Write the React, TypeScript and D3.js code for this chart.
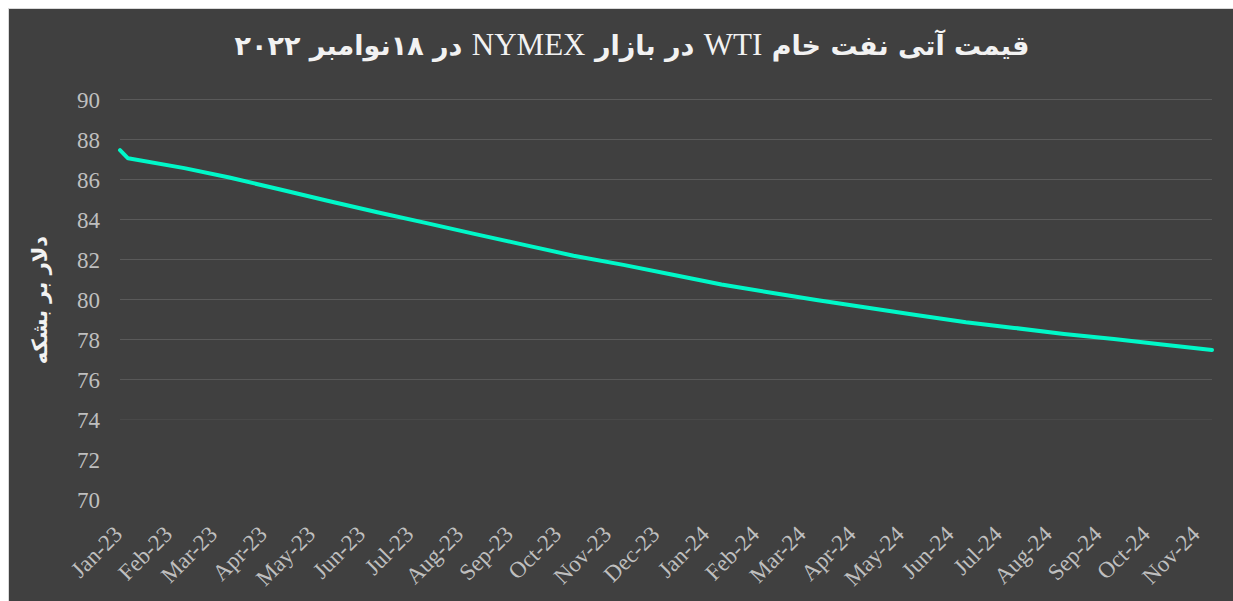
import * as d3 from "d3";

// WTI futures curve, NYMEX settlement of 18 Nov 2022
const dates = [
  "2023-01-01", "2023-01-06", "2023-02-10", "2023-03-10", "2023-04-10", "2023-05-10",
  "2023-06-10", "2023-07-10", "2023-08-10", "2023-09-10", "2023-10-10", "2023-11-10",
  "2023-12-10", "2024-01-10", "2024-02-10", "2024-03-10", "2024-04-10", "2024-05-10",
  "2024-06-10", "2024-07-10", "2024-08-10", "2024-09-10", "2024-10-10", "2024-11-10",
];
const prices = [
  87.47, 87.06, 86.57, 86.1, 85.51, 84.94, 84.36, 83.83, 83.27, 82.72, 82.19, 81.73,
  81.25, 80.75, 80.34, 79.96, 79.59, 79.23, 78.86, 78.58, 78.28, 78.02, 77.75, 77.47,
];
const yTicks = [70, 72, 74, 76, 78, 80, 82, 84, 86, 88, 90];
const monthTicks = [
  "2023-01-01", "2023-02-01", "2023-03-01", "2023-04-01", "2023-05-01", "2023-06-01",
  "2023-07-01", "2023-08-01", "2023-09-01", "2023-10-01", "2023-11-01", "2023-12-01",
  "2024-01-01", "2024-02-01", "2024-03-01", "2024-04-01", "2024-05-01", "2024-06-01",
  "2024-07-01", "2024-08-01", "2024-09-01", "2024-10-01", "2024-11-01",
];

// title pieces: [text, isLatin]
const titleParts: [string, boolean][] = [
  ["قیمت آتی نفت خام ", false],
  ["WTI", true],
  [" در بازار ", false],
  ["NYMEX", true],
  [" در ۱۸نوامبر ۲۰۲۲", false],
];
const yTitle = "دلار بر بشکه";

export default function App() {
  const width = 1233;
  const height = 601;
  const parse = d3.timeParse("%Y-%m-%d");
  const fmt = d3.timeFormat("%b-%y");

  const data = dates.map((d, i) => ({ date: parse(d) as Date, value: prices[i] }));

  const x = d3
    .scaleTime()
    .domain([parse("2023-01-01") as Date, parse("2024-11-10") as Date])
    .range([120, 1212]);
  const y = d3.scaleLinear().domain([70, 90]).range([499.5, 99.5]);

  const line = d3
    .line<{ date: Date; value: number }>()
    .x((d) => x(d.date))
    .y((d) => y(d.value));

  // gridlines fade out toward the bottom of the plot
  const gridOpacity = d3.scaleLinear().domain([375, 445]).range([1, 0]).clamp(true);

  const serif = "'Liberation Serif', 'Times New Roman', 'DejaVu Serif', serif";
  const persian = "'DejaVu Sans', sans-serif";

  return (
    <svg
      width={width}
      height={height}
      style={{ position: "absolute", left: 0, top: 0, display: "block" }}
    >
      <rect x={0} y={0} width={width} height={height} fill="#ffffff" />
      <rect x={8.5} y={8.5} width={width} height={height} fill="#404040" stroke="#d9d9d9" strokeWidth={1} />

      {/* gridlines */}
      {yTicks.map((t) => (
        <line
          key={t}
          x1={120}
          x2={1212}
          y1={y(t)}
          y2={y(t)}
          stroke="#5a5a5a"
          strokeOpacity={gridOpacity(y(t))}
          strokeWidth={1}
        />
      ))}

      {/* y tick labels */}
      {yTicks.map((t) => (
        <text
          key={"l" + t}
          x={100}
          y={y(t)}
          dy="0.35em"
          textAnchor="end"
          fill="#bfbfbf"
          fontFamily={serif}
          fontSize={23}
        >
          {t}
        </text>
      ))}

      {/* x tick labels */}
      {monthTicks.map((m) => {
        const px = x(parse(m) as Date);
        return (
          <text
            key={m}
            transform={`translate(${px - 2},${530}) rotate(-45)`}
            textAnchor="end"
            dy="0.35em"
            fill="#bfbfbf"
            fontFamily={serif}
            fontSize={23}
          >
            {fmt(parse(m) as Date)}
          </text>
        );
      })}

      {/* series */}
      <path
        d={line(data) || ""}
        fill="none"
        stroke="#00f8c8"
        strokeWidth={4}
        strokeLinejoin="round"
        strokeLinecap="round"
      />

      {/* title */}
      <text
        x={632}
        y={55}
        textAnchor="middle"
        direction="rtl"
        fill="#f2f2f2"
        fontSize={30}
      >
        {titleParts.map(([s, latin], i) => (
          <tspan
            key={i}
            fontFamily={latin ? serif : persian}
            fontWeight={latin ? "normal" : "bold"}
            fontSize={latin ? 31 : 27}
          >
            {s}
          </tspan>
        ))}
      </text>

      {/* y axis title */}
      <text
        transform="translate(40,300) rotate(-90)"
        textAnchor="middle"
        direction="rtl"
        dy="0.35em"
        fill="#f2f2f2"
        fontFamily={persian}
        fontSize={21}
        fontWeight="bold"
      >
        {yTitle}
      </text>
    </svg>
  );
}
